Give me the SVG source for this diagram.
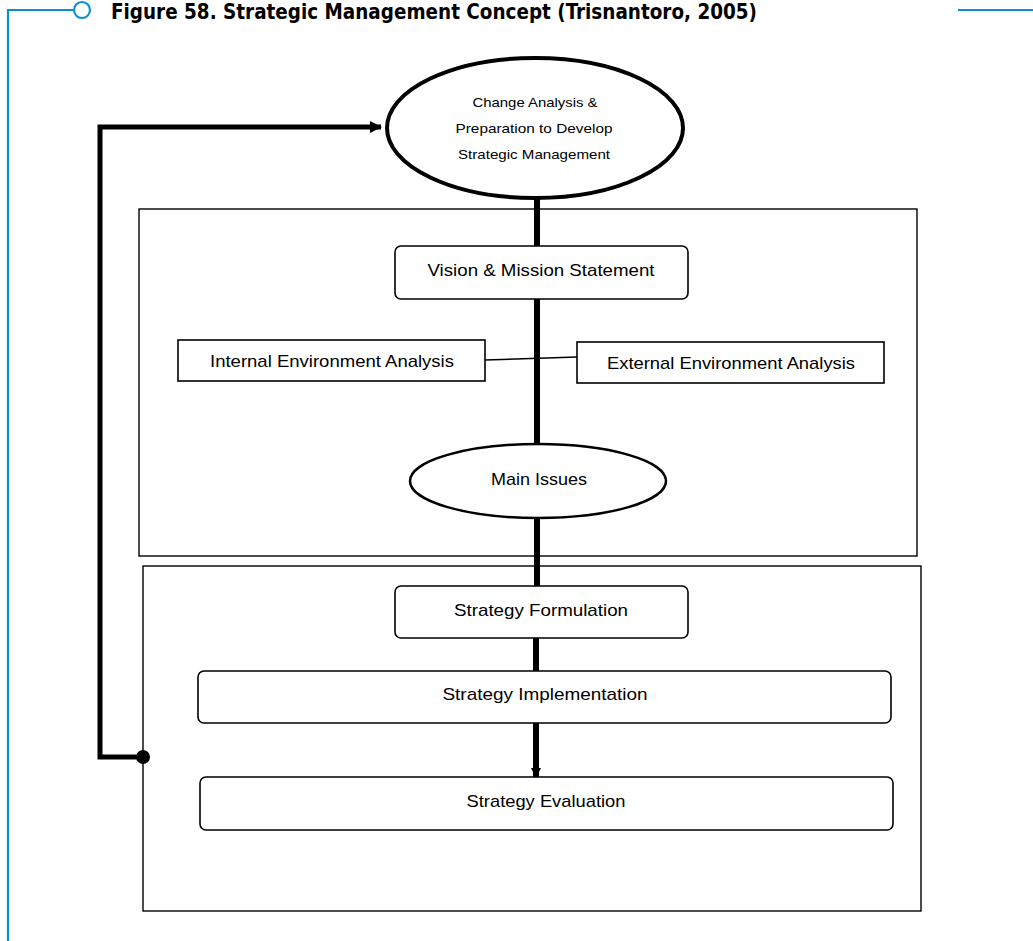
<svg xmlns="http://www.w3.org/2000/svg" width="1033" height="941" viewBox="0 0 1033 941">
<style>
.t{font-family:"Liberation Sans",Arial,sans-serif;font-size:17px;fill:#000;text-anchor:middle}
.s{font-size:13px}
.box{fill:#fff;stroke:#000;stroke-width:1.6}
.frame{fill:none;stroke:#000;stroke-width:1.4}
.blue{fill:none;stroke:#0b8fd4;stroke-width:2.2}
</style>
<defs>
<marker id="ah" markerWidth="10" markerHeight="10" refX="9" refY="5" orient="auto" markerUnits="userSpaceOnUse"><path d="M0,0 L10,5 L0,10 z" fill="#000"/></marker>
<marker id="ah2" markerWidth="12" markerHeight="12" refX="11" refY="6" orient="auto" markerUnits="userSpaceOnUse"><path d="M0,0 L12,6 L0,12 z" fill="#000"/></marker>
</defs>
<rect width="1033" height="941" fill="#fff"/>
<g id="title">
<path class="blue" d="M8,941 V10 H74"/>
<circle cx="82" cy="10" r="8" fill="#fff" stroke="#0b8fd4" stroke-width="2.2"/>
<path class="blue" d="M958,10 H1033"/>
<text x="111" y="19" font-family="'Liberation Sans Narrow','DejaVu Sans Condensed','Liberation Sans',sans-serif" font-weight="bold" font-size="22" textLength="646" lengthAdjust="spacingAndGlyphs">Figure 58. Strategic Management Concept  (Trisnantoro, 2005)</text>
</g>
<g id="frames">
<rect class="frame" x="139" y="209" width="778" height="347"/>
<rect class="frame" x="143" y="566" width="778" height="345"/>
</g>
<g id="connectors">
<line x1="537" y1="199" x2="537" y2="586" stroke="#000" stroke-width="6"/>
<line x1="536" y1="638" x2="536" y2="671" stroke="#000" stroke-width="6"/>
<line x1="536" y1="723" x2="536" y2="777" stroke="#000" stroke-width="6" marker-end="url(#ah)"/>
<line x1="485" y1="360" x2="577" y2="357" stroke="#000" stroke-width="1.6"/>
<path d="M143,757 H100 V127 H381" fill="none" stroke="#000" stroke-width="5" marker-end="url(#ah2)"/>
<circle cx="143" cy="757" r="7" fill="#000"/>
</g>
<g id="n-change">
<ellipse cx="535" cy="128" rx="148" ry="70" fill="#fff" stroke="#000" stroke-width="4"/>
<text class="t s" x="535" y="107" textLength="125" lengthAdjust="spacingAndGlyphs">Change Analysis &amp;</text>
<text class="t s" x="534" y="133" textLength="157" lengthAdjust="spacingAndGlyphs">Preparation to Develop</text>
<text class="t s" x="534" y="159" textLength="152" lengthAdjust="spacingAndGlyphs">Strategic Management</text>
</g>
<g id="n-vision">
<rect class="box" x="395" y="246" width="293" height="53" rx="6"/>
<text class="t" x="541" y="276" textLength="227" lengthAdjust="spacingAndGlyphs">Vision &amp; Mission Statement</text>
</g>
<g id="n-internal">
<rect class="box" x="178" y="340" width="307" height="41"/>
<text class="t" x="332" y="367" textLength="244" lengthAdjust="spacingAndGlyphs">Internal Environment Analysis</text>
</g>
<g id="n-external">
<rect class="box" x="577" y="342" width="307" height="41"/>
<text class="t" x="731" y="369" textLength="248" lengthAdjust="spacingAndGlyphs">External Environment Analysis</text>
</g>
<g id="n-issues">
<ellipse cx="538" cy="481" rx="128" ry="37" fill="#fff" stroke="#000" stroke-width="2.5"/>
<text class="t" x="539" y="485" textLength="96" lengthAdjust="spacingAndGlyphs">Main Issues</text>
</g>
<g id="n-formulation">
<rect class="box" x="395" y="586" width="293" height="52" rx="6"/>
<text class="t" x="541" y="616" textLength="174" lengthAdjust="spacingAndGlyphs">Strategy Formulation</text>
</g>
<g id="n-implementation">
<rect class="box" x="198" y="671" width="693" height="52" rx="6"/>
<text class="t" x="545" y="700" textLength="205" lengthAdjust="spacingAndGlyphs">Strategy Implementation</text>
</g>
<g id="n-evaluation">
<rect class="box" x="200" y="777" width="693" height="53" rx="6"/>
<text class="t" x="546" y="807" textLength="159" lengthAdjust="spacingAndGlyphs">Strategy Evaluation</text>
</g>
</svg>
